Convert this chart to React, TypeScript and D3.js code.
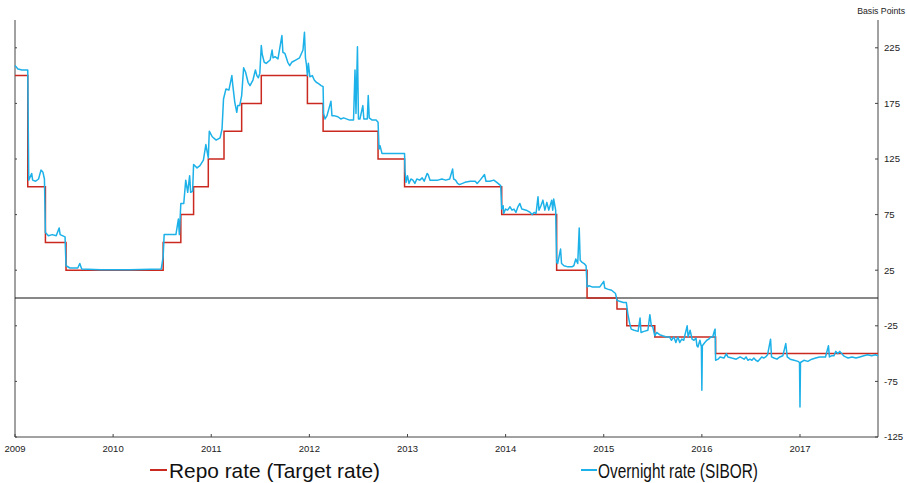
import React from "react";
import * as d3 from "d3";

// x values are decimal years, y values in basis points
const yearTicks = [2009, 2010, 2011, 2012, 2013, 2014, 2015, 2016, 2017];
const bpTicks = [225, 175, 125, 75, 25, -25, -75, -125];

const repoDates = [
  2009.0, 2009.13, 2009.31, 2009.52, 2010.51, 2010.69, 2010.82, 2010.97, 2011.13,
  2011.31, 2011.51, 2011.98, 2012.14, 2012.7, 2012.97, 2013.96, 2014.52, 2014.83,
  2015.135, 2015.235, 2015.52, 2016.14, 2017.795,
];
const repoValues = [
  200, 100, 50, 25, 50, 75, 100, 125, 150, 175, 200, 175, 150, 125, 100, 75, 25, 0,
  -10, -25, -35, -50, -50,
];

const overnight: [number, number][] = [
  [2009.0, 209], [2009.03, 206], [2009.07, 205], [2009.13, 205], [2009.14, 106],
  [2009.17, 112], [2009.18, 106], [2009.21, 105], [2009.24, 107], [2009.265, 115],
  [2009.285, 113], [2009.3, 107], [2009.31, 59], [2009.34, 56], [2009.38, 57],
  [2009.42, 56], [2009.45, 63], [2009.46, 57], [2009.51, 55], [2009.52, 29],
  [2009.56, 27], [2009.6, 27], [2009.64, 27], [2009.66, 31], [2009.68, 26],
  [2009.87, 25.5], [2010.17, 25.5], [2010.49, 26], [2010.51, 37], [2010.52, 57],
  [2010.58, 57], [2010.64, 57], [2010.665, 71], [2010.675, 57], [2010.69, 85],
  [2010.72, 85], [2010.74, 106], [2010.76, 95], [2010.78, 110], [2010.79, 95],
  [2010.81, 96], [2010.82, 120], [2010.855, 117], [2010.885, 119], [2010.92, 124],
  [2010.945, 138], [2010.97, 126], [2010.98, 150], [2011.01, 145], [2011.05, 142],
  [2011.09, 144], [2011.11, 152], [2011.125, 179], [2011.15, 188], [2011.18, 187],
  [2011.21, 200], [2011.22, 191], [2011.24, 176], [2011.26, 167], [2011.27, 173],
  [2011.29, 173], [2011.31, 182], [2011.33, 207], [2011.35, 203], [2011.375, 194],
  [2011.395, 191], [2011.425, 196], [2011.45, 205], [2011.465, 200], [2011.48, 198],
  [2011.495, 202], [2011.51, 227], [2011.52, 219], [2011.54, 212], [2011.56, 211],
  [2011.6, 214], [2011.62, 223], [2011.63, 216], [2011.65, 217], [2011.68, 215],
  [2011.72, 236], [2011.73, 221], [2011.75, 220], [2011.78, 212], [2011.8, 209],
  [2011.82, 212], [2011.86, 214], [2011.9, 216], [2011.935, 223], [2011.95, 239],
  [2011.96, 216], [2011.97, 210], [2011.98, 200], [2011.99, 211], [2012.005, 199],
  [2012.03, 200], [2012.05, 196], [2012.07, 194], [2012.09, 193], [2012.12, 191],
  [2012.14, 190], [2012.145, 166], [2012.16, 161], [2012.18, 164], [2012.22, 177],
  [2012.23, 164], [2012.25, 164], [2012.29, 163], [2012.32, 161], [2012.35, 162],
  [2012.41, 160], [2012.45, 160], [2012.465, 205], [2012.475, 166], [2012.49, 226],
  [2012.5, 161], [2012.515, 161], [2012.545, 173], [2012.555, 161], [2012.59, 161],
  [2012.6, 182], [2012.61, 162], [2012.64, 160], [2012.68, 160], [2012.7, 158],
  [2012.71, 134], [2012.72, 137], [2012.74, 130], [2012.8, 130], [2012.86, 130],
  [2012.92, 130], [2012.97, 130], [2012.975, 114], [2012.985, 104], [2013.0, 110],
  [2013.015, 103], [2013.035, 107], [2013.055, 106], [2013.075, 103], [2013.095, 107],
  [2013.125, 106], [2013.15, 108], [2013.17, 105], [2013.2, 112], [2013.21, 111],
  [2013.23, 106], [2013.27, 106], [2013.31, 106], [2013.35, 107], [2013.39, 106],
  [2013.43, 107], [2013.46, 116], [2013.47, 107], [2013.49, 106], [2013.51, 103],
  [2013.53, 102], [2013.585, 104], [2013.64, 105], [2013.69, 105], [2013.71, 103],
  [2013.74, 106], [2013.785, 111], [2013.8, 105], [2013.84, 105], [2013.88, 106],
  [2013.91, 104], [2013.95, 101], [2013.96, 80], [2013.975, 83], [2013.98, 76],
  [2014.0, 80], [2014.02, 79], [2014.045, 82], [2014.065, 79], [2014.085, 80],
  [2014.105, 77], [2014.125, 82], [2014.145, 85], [2014.165, 80], [2014.21, 79],
  [2014.25, 77], [2014.27, 75], [2014.29, 77], [2014.31, 76], [2014.33, 91],
  [2014.34, 79], [2014.36, 83], [2014.38, 88], [2014.4, 79], [2014.42, 86],
  [2014.44, 79], [2014.47, 88], [2014.48, 79], [2014.49, 89], [2014.51, 79],
  [2014.52, 32], [2014.53, 31], [2014.56, 44], [2014.57, 31], [2014.595, 29],
  [2014.635, 28], [2014.675, 28], [2014.695, 29], [2014.715, 35], [2014.735, 31],
  [2014.75, 63], [2014.76, 34], [2014.78, 32], [2014.8, 31], [2014.82, 29],
  [2014.83, 10], [2014.85, 11], [2014.88, 10], [2014.92, 10], [2014.96, 10],
  [2015.0, 15], [2015.01, 9], [2015.04, 8], [2015.08, 7], [2015.12, 4],
  [2015.135, -2], [2015.16, -3], [2015.2, -4], [2015.23, -4], [2015.235, -7],
  [2015.245, -14], [2015.265, -23], [2015.28, -28], [2015.31, -29], [2015.35, -30],
  [2015.37, -18], [2015.38, -31], [2015.41, -30], [2015.45, -29], [2015.47, -15],
  [2015.485, -25], [2015.5, -26], [2015.52, -34], [2015.54, -31], [2015.57, -33],
  [2015.6, -34], [2015.64, -35], [2015.67, -35], [2015.69, -38], [2015.715, -35],
  [2015.735, -40], [2015.755, -35], [2015.775, -40], [2015.795, -37], [2015.815, -38],
  [2015.85, -25], [2015.86, -35], [2015.88, -29], [2015.9, -37], [2015.92, -38],
  [2015.94, -36], [2015.95, -43], [2015.96, -44], [2015.98, -38], [2015.995, -44],
  [2016.0, -83], [2016.005, -43], [2016.03, -40], [2016.05, -38], [2016.07, -37],
  [2016.09, -35], [2016.11, -35], [2016.13, -29], [2016.135, -28], [2016.14, -56],
  [2016.165, -55], [2016.185, -53], [2016.225, -54], [2016.25, -50], [2016.265, -53],
  [2016.305, -54], [2016.35, -55], [2016.39, -53], [2016.43, -55], [2016.45, -53],
  [2016.47, -56], [2016.49, -55], [2016.51, -56], [2016.53, -54], [2016.55, -56],
  [2016.57, -57], [2016.59, -55], [2016.61, -53], [2016.63, -54], [2016.65, -53],
  [2016.67, -51], [2016.7, -37], [2016.71, -53], [2016.735, -54], [2016.765, -55],
  [2016.795, -53], [2016.825, -52], [2016.855, -41], [2016.87, -53], [2016.9, -55],
  [2016.94, -56], [2016.98, -57], [2016.995, -58], [2017.0, -98], [2017.005, -58],
  [2017.04, -56], [2017.08, -57], [2017.12, -55], [2017.16, -54], [2017.2, -53],
  [2017.24, -53], [2017.26, -53], [2017.29, -43], [2017.3, -53], [2017.32, -52],
  [2017.345, -52], [2017.365, -48], [2017.385, -50], [2017.405, -48], [2017.425, -50],
  [2017.445, -52], [2017.465, -53], [2017.49, -54], [2017.53, -53], [2017.57, -54],
  [2017.61, -53], [2017.65, -52], [2017.69, -51], [2017.73, -52], [2017.77, -51],
  [2017.795, -52],
];

const legendLabels = ["Repo rate (Target rate)", "Overnight rate (SIBOR)"];

const REPO_COLOR = "#c9291e";
const ON_COLOR = "#1cb1e8";

export default function App() {
  const width = 907;
  const height = 483;
  const left = 15;
  const right = 878;
  const top = 20;
  const bottom = 437;

  const x = d3.scaleLinear().domain([2009, 2017.795]).range([left, right]);
  const y = d3.scaleLinear().domain([-125, 250]).range([bottom, top]);

  const repo = repoDates.map((d, i) => [d, repoValues[i]] as [number, number]);

  const stepLine = d3
    .line<[number, number]>()
    .x((d) => x(d[0]))
    .y((d) => y(d[1]))
    .curve(d3.curveStepAfter);

  const line = d3
    .line<[number, number]>()
    .x((d) => x(d[0]))
    .y((d) => y(d[1]));

  const font = "'Liberation Sans', Arial, sans-serif";
  const axisColor = "#444";

  return (
    <svg
      width={width}
      height={height}
      style={{ position: "absolute", left: 0, top: 0, background: "#fff" }}
      fontFamily={font}
    >
      {/* frame: left, bottom, right */}
      <line x1={left} x2={left} y1={top} y2={bottom} stroke={axisColor} strokeWidth={1} />
      <line x1={left} x2={right} y1={bottom} y2={bottom} stroke={axisColor} strokeWidth={1} />
      <line x1={right} x2={right} y1={top} y2={bottom} stroke={axisColor} strokeWidth={1} />

      {/* zero line */}
      <line x1={left} x2={right} y1={y(0)} y2={y(0)} stroke="#111" strokeWidth={1} />

      {/* y ticks */}
      {bpTicks.map((t) => (
        <g key={t}>
          <line x1={right - 3} x2={right} y1={y(t)} y2={y(t)} stroke={axisColor} />
          <line x1={left} x2={left + 2} y1={y(t)} y2={y(t)} stroke={axisColor} />
          <text x={right + 6} y={y(t)} dy="0.35em" fontSize={9.6} fill="#222">
            {t}
          </text>
        </g>
      ))}
      <text x={905} y={14} textAnchor="end" fontSize={8.7} fill="#222">
        Basis Points
      </text>

      {/* x ticks */}
      {yearTicks.map((t) => (
        <g key={t}>
          <line x1={x(t)} x2={x(t)} y1={bottom - 3} y2={bottom} stroke={axisColor} />
          <text x={x(t)} y={452} textAnchor="middle" fontSize={9.5} fill="#222">
            {t}
          </text>
        </g>
      ))}

      {/* series */}
      <path d={stepLine(repo) ?? ""} fill="none" stroke={REPO_COLOR} strokeWidth={1.5} />
      <path
        d={line(overnight) ?? ""}
        fill="none"
        stroke={ON_COLOR}
        strokeWidth={1.5}
        strokeLinejoin="round"
      />

      {/* legend */}
      <line x1={150} x2={167} y1={470} y2={470} stroke={REPO_COLOR} strokeWidth={2} />
      <text
        x={169}
        y={478}
        fontSize={21}
        fill="#111"
        textLength={211}
        lengthAdjust="spacingAndGlyphs"
      >
        {legendLabels[0]}
      </text>
      <line x1={581} x2={597} y1={470} y2={470} stroke={ON_COLOR} strokeWidth={2} />
      <text
        x={598}
        y={478}
        fontSize={21}
        fill="#111"
        textLength={160}
        lengthAdjust="spacingAndGlyphs"
      >
        {legendLabels[1]}
      </text>
    </svg>
  );
}
